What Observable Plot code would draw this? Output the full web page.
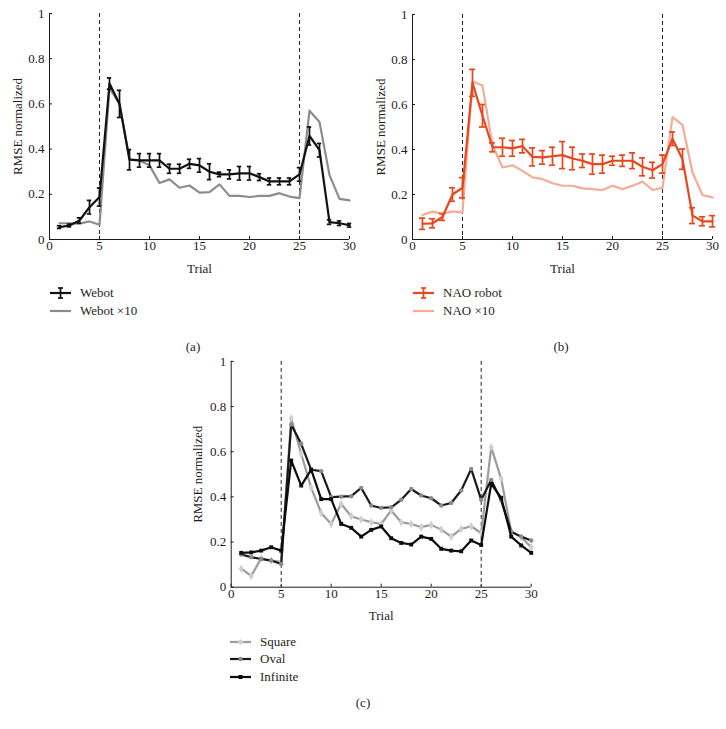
<!DOCTYPE html>
<html><head><meta charset="utf-8">
<script src="https://cdn.jsdelivr.net/npm/d3@7"></script>
<script src="https://cdn.jsdelivr.net/npm/@observablehq/plot@0.6"></script>
<style>
body{margin:0;background:#fff;}
#root{position:relative;width:726px;height:729px;font-family:"Liberation Serif","DejaVu Serif",serif;color:#231f20;overflow:hidden;background:#fff;}
#root svg.plot, #root .panel svg{font-family:"Liberation Serif","DejaVu Serif",serif !important;font-size:13px !important;}
#root .panel svg text{font-family:"Liberation Serif","DejaVu Serif",serif !important;}
.panel{position:absolute;}
.leg{position:absolute;font-size:13px;display:flex;align-items:center;height:16px;line-height:16px;white-space:nowrap;font-family:"Liberation Serif","DejaVu Serif",serif;}
.leg svg{margin-right:9px;}
.cap{position:absolute;font-size:13px;transform:translate(-50%,-50%);font-family:"Liberation Serif","DejaVu Serif",serif;}
</style></head><body><div id="root"></div>
<script>
// ---- data ----
const trials = [1,2,3,4,5,6,7,8,9,10,11,12,13,14,15,16,17,18,19,20,21,22,23,24,25,26,27,28,29,30];
const webot    = [0.055,0.062,0.084,0.143,0.188,0.69,0.60,0.353,0.35,0.35,0.35,0.313,0.313,0.335,0.328,0.30,0.288,0.288,0.293,0.293,0.276,0.257,0.257,0.257,0.288,0.458,0.395,0.077,0.072,0.063];
const webotErr = [0.006,0.006,0.012,0.03,0.04,0.025,0.06,0.045,0.03,0.03,0.03,0.02,0.02,0.02,0.03,0.035,0.01,0.02,0.03,0.03,0.015,0.015,0.015,0.015,0.03,0.04,0.03,0.01,0.01,0.008];
const webot10  = [0.072,0.072,0.07,0.08,0.065,0.67,0.60,0.354,0.35,0.328,0.25,0.266,0.229,0.239,0.207,0.21,0.244,0.193,0.193,0.188,0.193,0.193,0.205,0.19,0.183,0.57,0.52,0.285,0.18,0.173];
const nao      = [0.07,0.072,0.1,0.2,0.23,0.696,0.55,0.41,0.41,0.405,0.415,0.367,0.365,0.37,0.375,0.36,0.35,0.335,0.335,0.35,0.35,0.35,0.323,0.308,0.335,0.448,0.357,0.106,0.081,0.081];
const naoErr   = [0.025,0.02,0.015,0.03,0.045,0.06,0.05,0.02,0.04,0.035,0.03,0.04,0.03,0.04,0.06,0.05,0.03,0.045,0.04,0.02,0.025,0.035,0.04,0.035,0.04,0.03,0.045,0.035,0.02,0.025];
const nao10    = [0.109,0.124,0.114,0.125,0.12,0.703,0.684,0.42,0.32,0.33,0.305,0.276,0.268,0.25,0.239,0.239,0.227,0.224,0.22,0.239,0.224,0.239,0.257,0.22,0.23,0.544,0.509,0.298,0.198,0.187];
const square   = [0.082,0.05,0.128,0.118,0.112,0.748,0.59,0.44,0.329,0.28,0.369,0.314,0.3,0.288,0.28,0.34,0.288,0.28,0.266,0.276,0.255,0.224,0.258,0.27,0.239,0.62,0.48,0.246,0.221,0.177];
const oval     = [0.145,0.133,0.125,0.118,0.103,0.72,0.635,0.52,0.514,0.399,0.401,0.403,0.44,0.362,0.351,0.354,0.387,0.435,0.406,0.394,0.362,0.373,0.428,0.524,0.387,0.475,0.384,0.246,0.224,0.207];
const infinite = [0.152,0.154,0.162,0.177,0.162,0.561,0.45,0.521,0.39,0.39,0.28,0.263,0.224,0.254,0.269,0.217,0.196,0.189,0.224,0.214,0.17,0.162,0.159,0.207,0.187,0.458,0.396,0.224,0.185,0.152];
const xTicks = [0,5,10,15,20,25,30];
const yTicks = [0,0.2,0.4,0.6,0.8,1];
const phaseBounds = [5,25];
const xLabel = "Trial";
const yLabel = "RMSE normalized";
const legendA = ["Webot", "Webot \u00d710"];
const legendB = ["NAO robot", "NAO \u00d710"];
const legendC = ["Square", "Oval", "Infinite"];
const captions = ["(a)", "(b)", "(c)"];

// ---- colours ----
const C = {
  webot: "#111111", webot10: "#8c8c8c",
  nao: "#e8471d", nao10: "#f6ab96",
  squareLine: "#9c9c9c", squareDot: "#cfcfcf",
  ovalLine: "#1a1a1a", ovalDot: "#8a8a8a",
  infLine: "#0d0d0d", infDot: "#0d0d0d",
  ink: "#1f1b1c"
};
const FONT = '"Liberation Serif", "DejaVu Serif", serif';

const rows = (vals, err) => trials.map((t, i) => ({t, v: vals[i], e: err ? err[i] : 0}));

function errorMarks(data, color, cap) {
  return [
    Plot.ruleX(data, {x: "t", y1: d => d.v - d.e, y2: d => d.v + d.e, stroke: color, strokeWidth: 1.7}),
    Plot.ruleY(data, {y: d => d.v + d.e, x1: d => d.t - cap, x2: d => d.t + cap, stroke: color, strokeWidth: 1.7}),
    Plot.ruleY(data, {y: d => d.v - d.e, x1: d => d.t - cap, x2: d => d.t + cap, stroke: color, strokeWidth: 1.7})
  ];
}

function panel(g, marks) {
  return Plot.plot({
    width: g.w, height: g.h,
    marginLeft: g.ml, marginRight: g.mr, marginTop: g.mt, marginBottom: g.mb,
    style: `font-family: ${FONT}; font-size: 13px; color: ${C.ink}; background: transparent; overflow: visible;`,
    x: {domain: [0, 30]},
    y: {domain: [0, 1]},
    marks: [
      Plot.ruleX(phaseBounds, {stroke: "#222", strokeDasharray: "4,3", strokeWidth: 1}),
      ...marks,
      Plot.ruleX([0], {stroke: C.ink, strokeWidth: 1}),
      Plot.ruleY([0], {stroke: C.ink, strokeWidth: 1}),
      Plot.axisX({ticks: xTicks, tickSize: -3, tickPadding: 4.5, tickFormat: d => String(d), fontSize: 13, fontFamily: FONT, label: xLabel, labelAnchor: "center", labelArrow: "none", labelOffset: g.xlo, fill: C.ink}),
      Plot.axisY({ticks: yTicks, tickSize: -3, tickPadding: 8, tickFormat: d => String(d), fontSize: 13, fontFamily: FONT, label: yLabel, labelAnchor: "center", labelArrow: "none", labelOffset: g.ylo, fill: C.ink})
    ]
  });
}

const root = document.getElementById("root");
function place(el, x, y) {
  const d = document.createElement("div");
  d.className = "panel";
  d.style.left = x + "px"; d.style.top = y + "px";
  d.appendChild(el);
  root.appendChild(d);
}

// Panel (a)
const wA = rows(webot, webotErr), wA10 = rows(webot10);
place(panel({w: 363, h: 282, ml: 49, mr: 14, mt: 13, mb: 43, xlo: 33, ylo: 37}, [
  Plot.line(wA10, {x: "t", y: "v", stroke: C.webot10, strokeWidth: 2.2}),
  ...errorMarks(wA, C.webot, 0.22),
  Plot.line(wA, {x: "t", y: "v", stroke: C.webot, strokeWidth: 2.2})
]), 0, 0);

// Panel (b)
const nB = rows(nao, naoErr), nB10 = rows(nao10);
place(panel({w: 363, h: 282, ml: 49, mr: 14, mt: 14, mb: 43, xlo: 33, ylo: 37}, [
  Plot.line(nB10, {x: "t", y: "v", stroke: C.nao10, strokeWidth: 2.2}),
  ...errorMarks(nB, C.nao, 0.3),
  Plot.line(nB, {x: "t", y: "v", stroke: C.nao, strokeWidth: 2.2})
]), 363, 0);

// Panel (c)
const sq = rows(square), ov = rows(oval), inf = rows(infinite);
place(panel({w: 363, h: 290, ml: 50.7, mr: 12.3, mt: 20.9, mb: 43.3, xlo: 33, ylo: 38}, [
  Plot.line(sq, {x: "t", y: "v", stroke: C.squareLine, strokeWidth: 2.2}),
  Plot.dot(sq, {x: "t", y: "v", symbol: "diamond", r: 2.6, fill: C.squareDot}),
  Plot.line(ov, {x: "t", y: "v", stroke: C.ovalLine, strokeWidth: 2.2}),
  Plot.dot(ov, {x: "t", y: "v", symbol: "circle", r: 2.2, fill: C.ovalDot}),
  Plot.line(inf, {x: "t", y: "v", stroke: C.infLine, strokeWidth: 2.2}),
  Plot.dot(inf, {x: "t", y: "v", symbol: "square", r: 2.2, fill: C.infDot})
]), 180, 340);

// ---- legends ----
const NS = "http://www.w3.org/2000/svg";
function sym(kind, color, dot) {
  const s = document.createElementNS(NS, "svg");
  s.setAttribute("width", 21); s.setAttribute("height", 14);
  let h = `<line x1="0" y1="7" x2="21" y2="7" stroke="${color}" stroke-width="2.2"/>`;
  if (kind === "err") {
    h += `<line x1="10.5" y1="2" x2="10.5" y2="12" stroke="${color}" stroke-width="1.7"/>`;
    h += `<line x1="8" y1="2" x2="13" y2="2" stroke="${color}" stroke-width="1.7"/>`;
    h += `<line x1="8" y1="12" x2="13" y2="12" stroke="${color}" stroke-width="1.7"/>`;
  } else if (kind === "diamond") {
    h += `<path d="M10.5,4 L13.5,7 L10.5,10 L7.5,7Z" fill="${dot}"/>`;
  } else if (kind === "circle") {
    h += `<circle cx="10.5" cy="7" r="2.2" fill="${dot}"/>`;
  } else if (kind === "square") {
    h += `<rect x="8.5" y="5" width="4" height="4" fill="${dot}"/>`;
  }
  s.innerHTML = h;
  return s;
}
function legendRow(x, yc, symbol, text) {
  const d = document.createElement("div");
  d.className = "leg";
  d.style.left = x + "px"; d.style.top = (yc - 8) + "px";
  d.appendChild(symbol);
  d.appendChild(document.createTextNode(text));
  root.appendChild(d);
}
legendRow(50, 293, sym("err", C.webot), legendA[0]);
legendRow(50, 311, sym("line", C.webot10), legendA[1]);
legendRow(413, 293, sym("err", C.nao), legendB[0]);
legendRow(413, 311, sym("line", C.nao10), legendB[1]);
legendRow(230, 642, sym("diamond", C.squareLine, C.squareDot), legendC[0]);
legendRow(230, 659, sym("circle", C.ovalLine, C.ovalDot), legendC[1]);
legendRow(230, 677, sym("square", C.infLine, C.infDot), legendC[2]);

function caption(x, y, t) {
  const d = document.createElement("div");
  d.className = "cap";
  d.style.left = x + "px"; d.style.top = y + "px";
  d.textContent = t;
  root.appendChild(d);
}
caption(193, 347, captions[0]);
caption(561, 347, captions[1]);
caption(363, 703, captions[2]);
</script></body></html>
